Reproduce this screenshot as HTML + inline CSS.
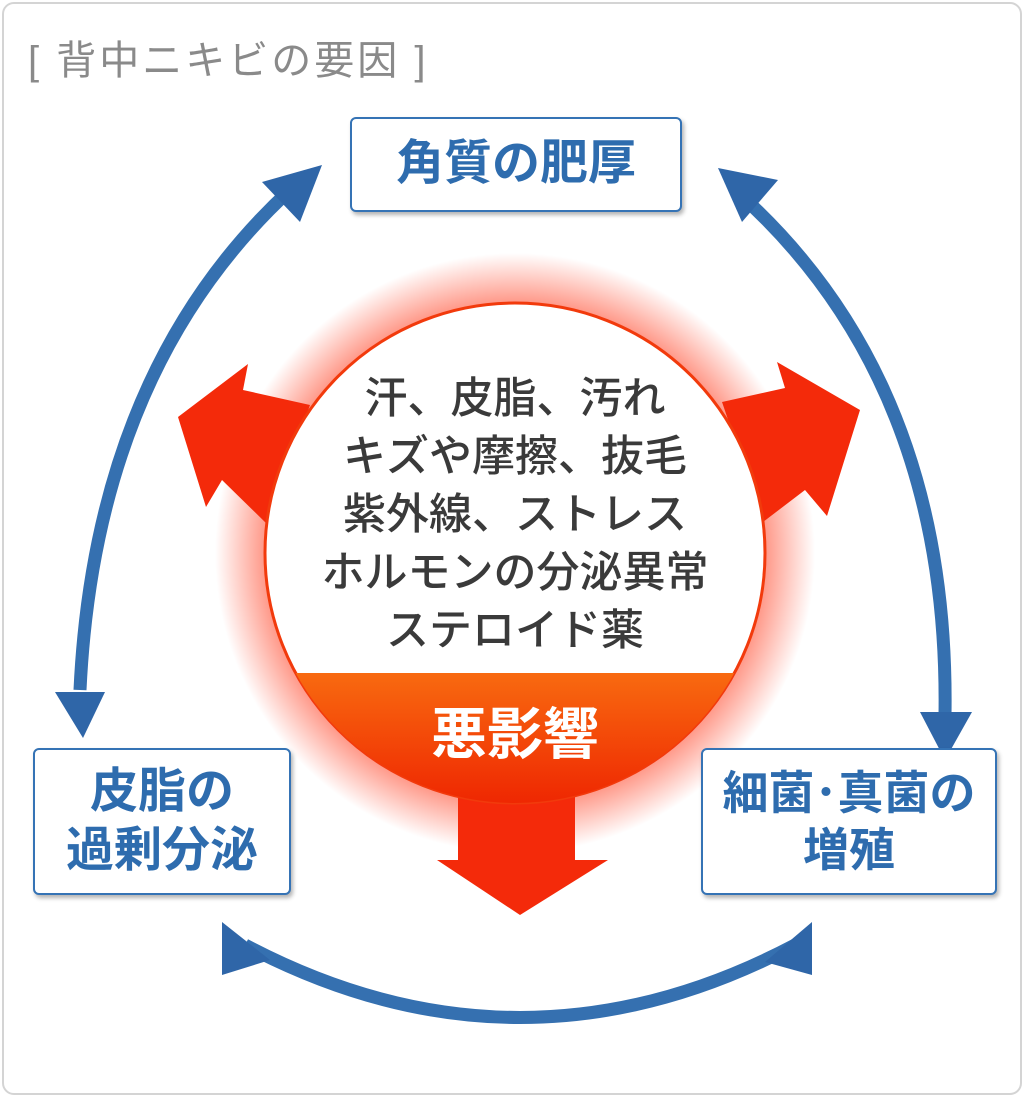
<!DOCTYPE html>
<html><head><meta charset="utf-8"><style>
body{margin:0;width:1024px;height:1097px;background:#fff;font-family:"Liberation Sans","Noto Sans CJK JP",sans-serif;position:relative;overflow:hidden}
.frame{position:absolute;left:2px;top:2px;width:1016px;height:1089px;border:2px solid #d4d4d4;border-radius:12px}
.t{position:absolute;left:28px;top:28px;font-size:40px;letter-spacing:3px;color:#8a8a8a}
.box{position:absolute;border:2px solid #3573b5;border-radius:6px;background:#fff;box-shadow:2px 3px 4px rgba(0,0,0,.3);color:#2e6cae;font-weight:bold;text-align:center;display:flex;align-items:center;justify-content:center;line-height:1.22}
.ct{position:absolute;left:280px;top:370px;width:470px;text-align:center;font-size:43px;line-height:58px;color:#3a3a3a;font-weight:500}
.bad{position:absolute;left:300px;top:690px;width:430px;text-align:center;font-size:56px;color:#fff;font-weight:bold}
</style></head><body>
<div class="frame"></div>
<div class="t">[ 背中ニキビの要因 ]</div>
<svg width="1024" height="1097" style="position:absolute;left:0;top:0">
<defs>
<radialGradient id="g" cx="515" cy="553" r="300" gradientUnits="userSpaceOnUse">
<stop offset="0.8" stop-color="#ff3010" stop-opacity="0.6"/><stop offset="1" stop-color="#ff3010" stop-opacity="0"/></radialGradient>
<linearGradient id="b" x1="0" y1="0" x2="0" y2="1"><stop offset="0" stop-color="#f86a10"/><stop offset="1" stop-color="#ee2200"/></linearGradient>
<clipPath id="c"><circle cx="515" cy="553" r="250"/></clipPath>
</defs>
<g fill="none" stroke="#3570b0" stroke-width="13">
<path d="M290 190 Q95 370 80 690"/>
<path d="M735 190 Q950 380 945 715"/>
<path d="M245 945 Q520 1090 795 945"/>
</g>
<g fill="#2f66a8">
<polygon points="322,165 262,182 300,222"/>
<polygon points="55,692 105,692 83,738"/>
<polygon points="718,168 778,180 742,222"/>
<polygon points="920,712 972,712 945,760"/>
<polygon points="222,922 270,960 222,975"/>
<polygon points="812,922 812,975 765,962"/>
</g>
<circle cx="515" cy="553" r="300" fill="url(#g)"/>
<g fill="#f42a0a">
<polygon points="178,417 248,364 243,390 310,405 268,525 222,480 206,507"/>
<polygon points="860,410 827,516 805,490 763,522 722,402 785,388 777,362"/>
<polygon points="458,780 575,780 575,860 608,860 520,915 437,860 458,860"/>
</g>
<circle cx="515" cy="553" r="250" fill="#fff" stroke="#f23a0c" stroke-width="3"/>
<rect x="250" y="673" width="540" height="140" fill="url(#b)" clip-path="url(#c)"/>
</svg>
<div class="box" style="left:350px;top:117px;width:328px;height:91px;font-size:48px">角質の肥厚</div>
<div class="box" style="left:33px;top:748px;width:254px;height:143px;font-size:48px">皮脂の<br>過剰分泌</div>
<div class="box" style="left:701px;top:748px;width:292px;height:143px;font-size:46px">細菌･真菌の<br>増殖</div>
<div class="ct">汗、皮脂、汚れ<br>キズや摩擦、抜毛<br>紫外線、ストレス<br>ホルモンの分泌異常<br>ステロイド薬</div>
<div class="bad">悪影響</div>
</body></html>
